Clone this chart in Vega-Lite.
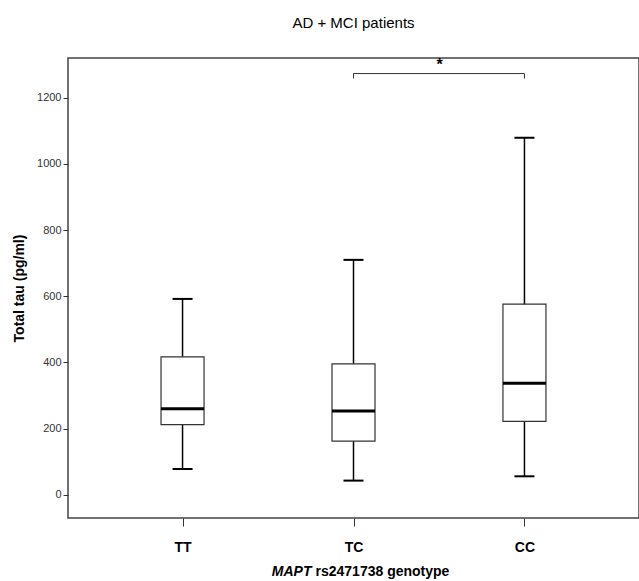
{
"$schema":"https://vega.github.io/schema/vega-lite/v6.json",
"width":571,"height":460,
"autosize":{"type":"none"},
"padding":{"left":68,"top":58,"right":0,"bottom":63},
"title":{"text":"AD + MCI patients","font":"Liberation Sans","fontSize":15,"fontWeight":"normal","offset":26,"anchor":"middle"},
"config":{"view":{"stroke":"#444","strokeWidth":1.5},"font":"Liberation Sans"},
"datasets":{
"box":[
{"g":"TT","low":78,"q1":212,"med":260,"q3":417,"high":592},
{"g":"TC","low":43,"q1":162,"med":253,"q3":396,"high":710},
{"g":"CC","low":56,"q1":222,"med":337,"q3":576,"high":1079}],
"br":[{"g":"TC","y":1273,"y2":1258},{"g":"CC","y":1273,"y2":1258}]
},
"encoding":{
"x":{"field":"g","type":"nominal","sort":["TT","TC","CC"],
"scale":{"type":"point","padding":0.67},
"axis":{"title":[""],"labelFontSize":14,"labelFontWeight":"bold","labelColor":"black","tickColor":"#333","tickSize":8,"domain":false,"labelPadding":14,"labelAngle":0}}
},
"layer":[
{"data":{"name":"box"},"mark":{"type":"rule","color":"black","strokeWidth":1.5},
"encoding":{"y":{"field":"low","type":"quantitative","scale":{"domain":[-70,1320],"nice":false,"zero":false},
"axis":{"title":"Total tau (pg/ml)","format":"d","titleFontSize":14,"titleFontWeight":"bold","titleColor":"black","titlePadding":10,"values":[0,200,400,600,800,1000,1200],"grid":false,"domain":false,"labelFontSize":11,"labelColor":"#333","tickColor":"#333","tickSize":5}},
"y2":{"field":"high"}}},
{"data":{"name":"box"},"mark":{"type":"bar","fill":"white","stroke":"#333","strokeWidth":1.2,"size":43},
"encoding":{"y":{"field":"q1","type":"quantitative"},"y2":{"field":"q3"}}},
{"data":{"name":"box"},"mark":{"type":"tick","color":"black","opacity":1,"thickness":3,"size":43},
"encoding":{"y":{"field":"med","type":"quantitative"}}},
{"data":{"name":"box"},"mark":{"type":"tick","color":"black","opacity":1,"thickness":2,"size":20},
"encoding":{"y":{"field":"low","type":"quantitative"}}},
{"data":{"name":"box"},"mark":{"type":"tick","color":"black","opacity":1,"thickness":2,"size":20},
"encoding":{"y":{"field":"high","type":"quantitative"}}},
{"data":{"name":"br"},"mark":{"type":"rule","color":"#333","strokeWidth":1},
"encoding":{"y":{"field":"y","type":"quantitative"},"y2":{"field":"y2"}}},
{"data":{"name":"br"},"mark":{"type":"line","color":"#333","strokeWidth":1},
"encoding":{"y":{"field":"y","type":"quantitative"}}},
{"data":{"values":[{"t":"*","y":1300}]},"mark":{"type":"text","fontSize":16,"fontWeight":"bold","dx":86},
"encoding":{"x":{"datum":"TC"},"y":{"field":"y","type":"quantitative"},"text":{"field":"t"}}},
{"data":{"values":[{"a":"MAPT"}]},"mark":{"type":"text","fontSize":14,"fontWeight":"bold","fontStyle":"italic","align":"right","dy":54,"dx":-42},
"encoding":{"x":{"datum":"TC"},"y":{"datum":-70},"text":{"field":"a"}}},
{"data":{"values":[{"b":"rs2471738 genotype"}]},"mark":{"type":"text","fontSize":14,"fontWeight":"bold","align":"left","dy":54,"dx":-38},
"encoding":{"x":{"datum":"TC"},"y":{"datum":-70},"text":{"field":"b"}}}
]
}
